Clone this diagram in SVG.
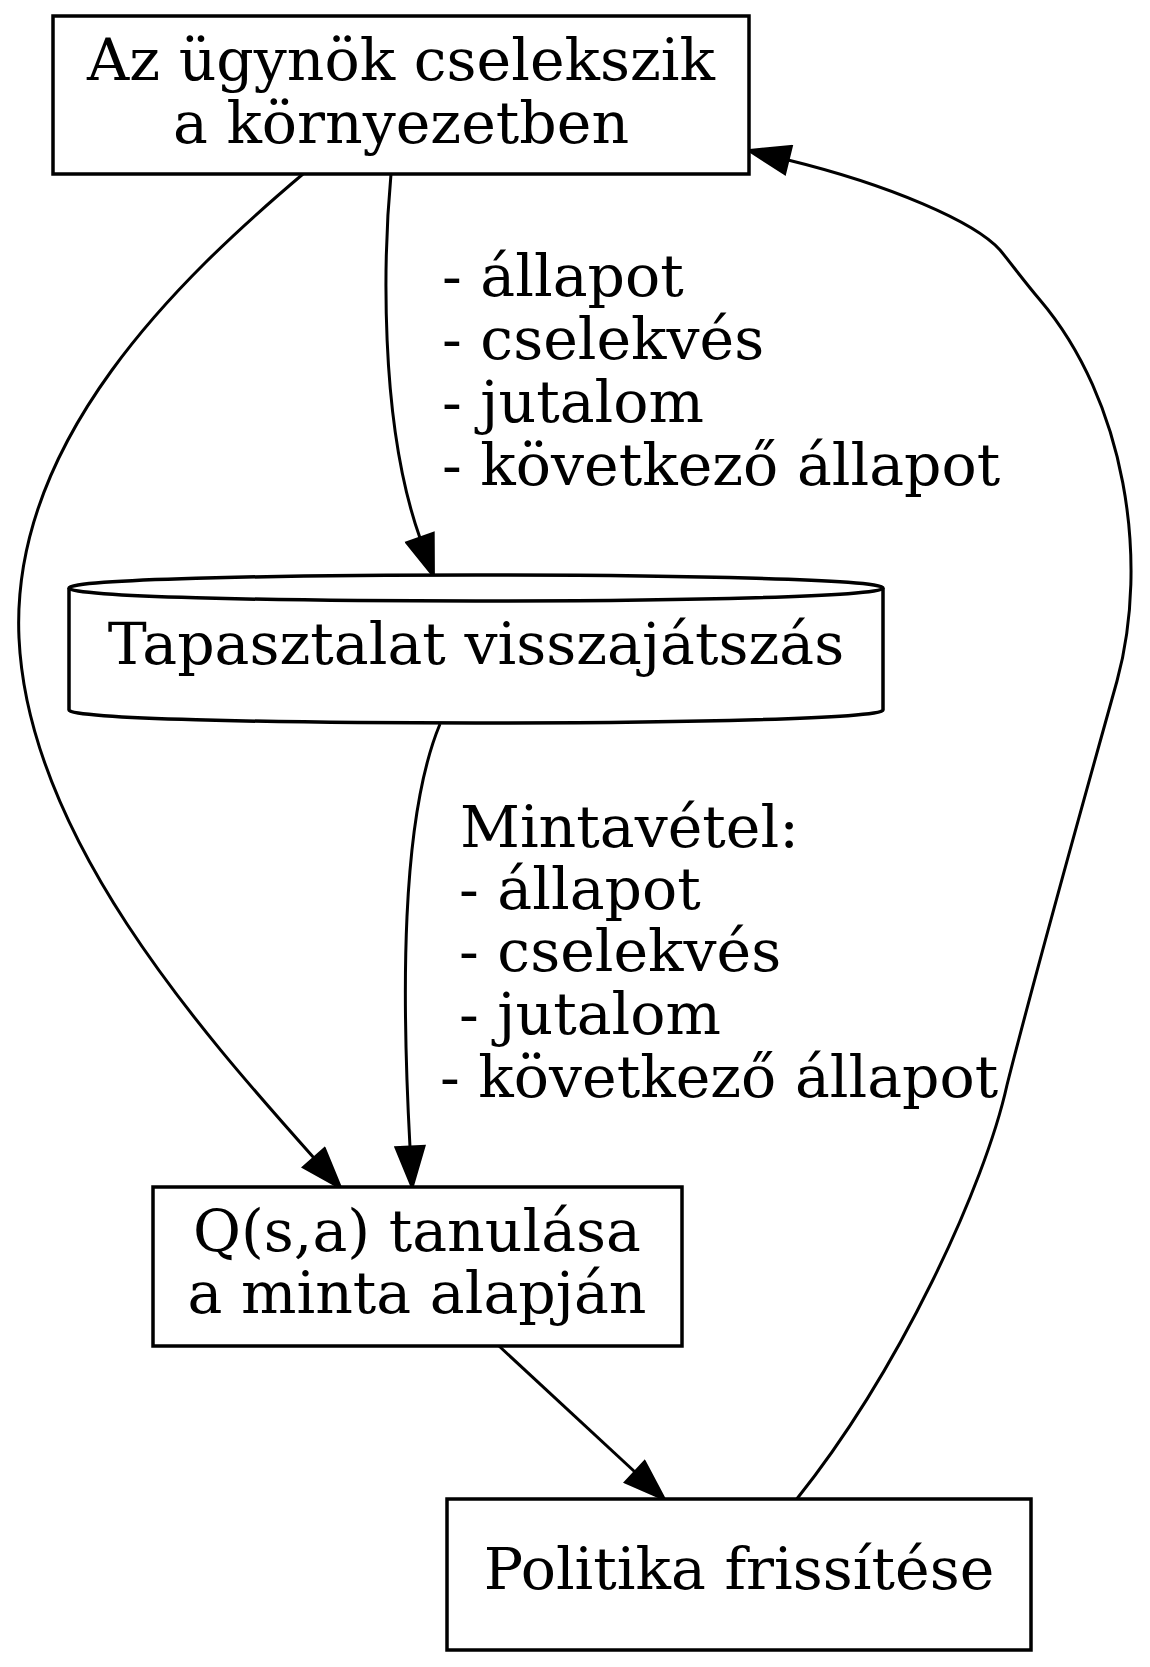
<svg xmlns="http://www.w3.org/2000/svg" width="1150" height="1667" viewBox="0 0 1150 1667">
<style>
.node{fill:#fff;stroke:#000;stroke-width:3.5}
.edge{fill:none;stroke:#000;stroke-width:3}
text{font-family:"DejaVu Serif","Liberation Serif",serif;font-size:58.5px;fill:#000}
.c{text-anchor:middle}
</style>
<defs>
<marker id="arr" markerUnits="userSpaceOnUse" markerWidth="44" markerHeight="32" viewBox="-2 -2 44 32" refX="0" refY="14" orient="auto">
<path d="M0,0 L40,14 L0,28 Z" fill="#000" stroke="#000" stroke-width="3"/>
</marker>
</defs>
<rect width="1150" height="1667" fill="#fff"/>
<g id="edges">
<path class="edge" d="M391,174 C384,250 378,420 420,538" marker-end="url(#arr)"/>
<path class="edge" d="M440,724 C400,820 402,1000 410,1147" marker-end="url(#arr)"/>
<path class="edge" d="M303,174 C180,278 10,440 19,638 C28,836 200,1030 314,1158" marker-end="url(#arr)"/>
<path class="edge" d="M499,1346 L635,1472" marker-end="url(#arr)"/>
<path class="edge" d="M796,1500 C900,1370 985,1185 1007,1085 C1039,959 1095,760 1117,681 C1150,560 1125,400 1040,300 C1023,280 1010,262 1000,250 C975,222 890,185 788,160" marker-end="url(#arr)"/>
<g id="label1">
<text x="442" y="296">- állapot</text>
<text x="442" y="359">- cselekvés</text>
<text x="442" y="422">- jutalom</text>
<text x="442" y="485">- következő állapot</text>
</g>
<g id="label2">
<text x="460" y="847">Mintavétel:</text>
<text x="459" y="909">- állapot</text>
<text x="459" y="971">- cselekvés</text>
<text x="459" y="1034">- jutalom</text>
<text x="440" y="1097">- következő állapot</text>
</g>
</g>
<g id="agent">
<rect class="node" x="53" y="16" width="696" height="158"/>
<text class="c" x="401" y="80">Az ügynök cselekszik</text>
<text class="c" x="401" y="143">a környezetben</text>
</g>
<g id="replay">
<path class="node" d="M69,588 C69,570.7 883,570.7 883,588 L883,710 C883,727.3 69,727.3 69,710 Z"/>
<path class="node" fill="none" d="M69,588 C69,605.3 883,605.3 883,588"/>
<text class="c" x="476" y="664">Tapasztalat visszajátszás</text>
</g>
<g id="learn">
<rect class="node" x="153" y="1187" width="529" height="159"/>
<text class="c" x="417" y="1251">Q(s,a) tanulása</text>
<text class="c" x="417" y="1313">a minta alapján</text>
</g>
<g id="policy">
<rect class="node" x="447" y="1499" width="584" height="151"/>
<text class="c" x="739" y="1589">Politika frissítése</text>
</g>
</svg>
